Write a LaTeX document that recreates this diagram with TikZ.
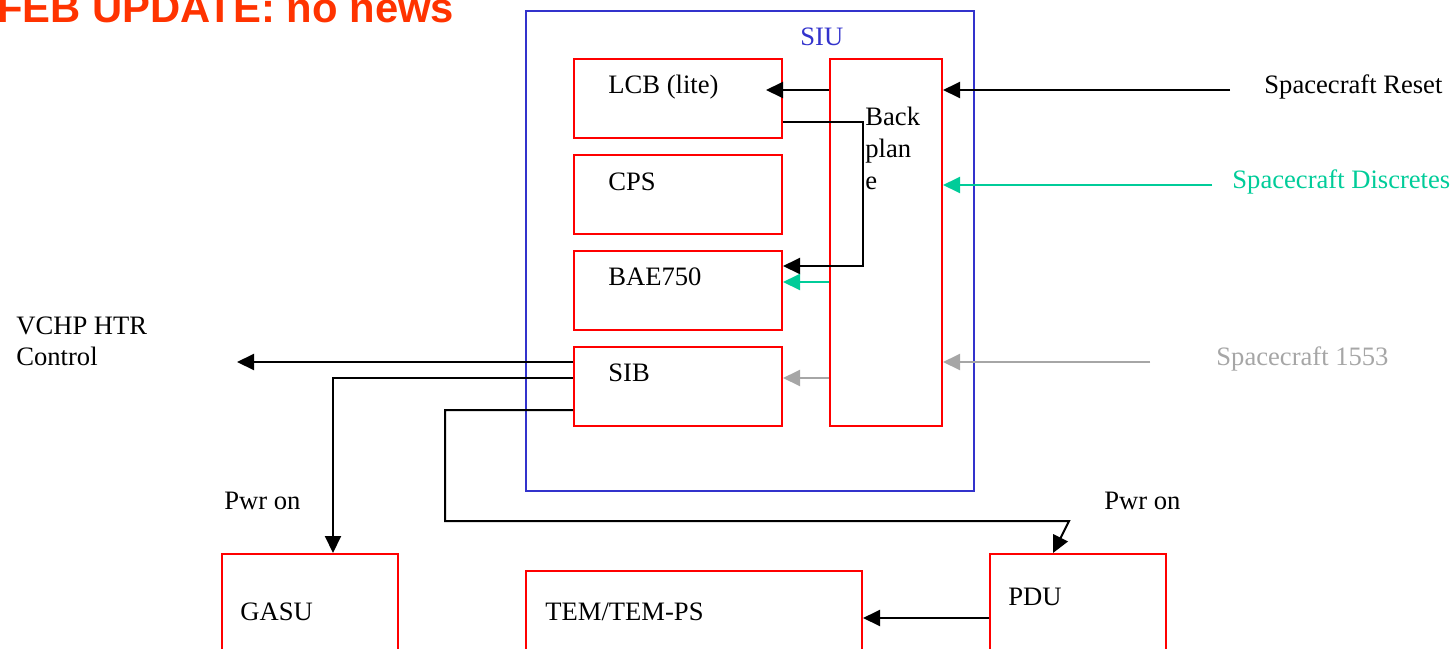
\documentclass[tikz,border=0pt]{standalone}
\usepackage{fontspec}
\setmainfont{Liberation Serif}
\newfontfamily\titlefont{Liberation Sans}
\usetikzlibrary{arrows.meta,calc}
\definecolor{boxred}{HTML}{FF0000}
\definecolor{siublue}{HTML}{3333CC}
\definecolor{discgreen}{HTML}{00CC99}
\definecolor{lgray}{HTML}{A6A6A6}
\definecolor{titlered}{HTML}{FF3300}
\begin{document}
\begin{tikzpicture}[x=0.5pt,y=-0.5pt,
  rbox/.style={draw=boxred, line width=1pt, inner sep=0pt, anchor=north west},
  arr/.style={-{Triangle[length=8.5pt,width=8pt]}, line width=1pt},
  txt/.style={anchor=base west, inner sep=0pt, font=\fontsize{13.3}{16}\selectfont}]
\useasboundingbox (0,0) rectangle (1455,648);
\clip (0,0) rectangle (1455,648);
% title
\node[anchor=base west, inner sep=0pt, text=titlered, font=\titlefont\bfseries\fontsize{20.9}{24}\selectfont] (title) at (-3,22) {FEB UPDATE: no news};
% SIU
\node[draw=siublue, line width=1pt, inner sep=0pt, anchor=north west, minimum width=224pt, minimum height=240pt] (siu) at (525,10) {};
\node[txt, text=siublue] (siul) at (800,45) {SIU};
% inner boxes
\node[rbox, minimum width=104pt, minimum height=39.5pt] (lcb) at (573,58) {};
\node[rbox, minimum width=104pt, minimum height=39.5pt] (cps) at (573,154) {};
\node[rbox, minimum width=104pt, minimum height=39.5pt] (bae) at (573,250) {};
\node[rbox, minimum width=104pt, minimum height=39.5pt] (sib) at (573,346) {};
\node[rbox, minimum width=56pt, minimum height=183.5pt] (bp) at (829,58) {};
\node[txt] (lcbl) at (608,93) {LCB (lite)};
\node[txt] (cpsl) at (608,190) {CPS};
\node[txt] (bael) at (608,285) {BAE750};
\node[txt] (sibl) at (608,381) {SIB};
\node[txt] (bpl1) at (865,125) {Back};
\node[txt] (bpl2) at (865,157) {plan};
\node[txt] (bpl3) at (865,189) {e};
% bottom boxes
\node[rbox, minimum width=88pt, minimum height=100pt] (gasu) at (221,553) {};
\node[rbox, minimum width=168pt, minimum height=100pt] (tem) at (525,570) {};
\node[rbox, minimum width=88pt, minimum height=100pt] (pdu) at (989,553) {};
\node[txt] (gasul) at (240,620) {GASU};
\node[txt] (teml) at (545,620) {TEM/TEM-PS};
\node[txt] (pdul) at (1008,605) {PDU};
% external labels
\node[txt] (rstl) at (1264,93) {Spacecraft Reset};
\node[txt, text=discgreen] (discl) at (1232,188) {Spacecraft Discretes};
\node[txt, text=lgray] (s1553l) at (1216,365) {Spacecraft 1553};
\node[txt] (vchp1) at (16,334) {VCHP HTR};
\node[txt] (vchp2) at (16,365) {Control};
\node[txt] (pwr1) at (224,509) {Pwr on};
\node[txt] (pwr2) at (1104,509) {Pwr on};
% connector free ends
\coordinate (rstS) at (1230,90);
\coordinate (discS) at (1212,185);
\coordinate (s1553S) at (1150,362);
\coordinate (vchpT) at (237,362);
\coordinate (lcbT) at (766,90);
\coordinate (temS) at ($(pdu.north west)+(0,65)$);
% external inputs
\draw[arr] (rstS) -- (rstS -| bp.east);
\draw[arr, draw=discgreen, fill=discgreen] (discS) -- (discS -| bp.east);
\draw[arr, draw=lgray, fill=lgray] (s1553S) -- (s1553S -| bp.east);
% backplane to boards
\draw[arr] (lcbT -| bp.west) -- (lcbT);
\draw[arr] ($(lcb.north east)+(0,64)$) -- ++(80,0) |- ($(bae.north east)+(0,16)$);
\draw[arr, draw=discgreen, fill=discgreen] ($(bp.north west)+(0,224)$) -- ($(bae.north east)+(0,32)$);
\draw[arr, draw=lgray, fill=lgray] ($(bp.north west)+(0,320)$) -- ($(sib.north east)+(0,32)$);
% SIB outputs
\draw[arr] ($(sib.north west)+(0,16)$) -- (vchpT);
\draw[arr] ($(sib.north west)+(0,32)$) -| (gasu.north -| 333,0);
\draw[arr] ($(sib.north west)+(0,64)$) -- (445,410) -- (445,521) -- (1069,521) -- (pdu.north -| 1053,0);
% PDU to TEM
\draw[arr] (temS) -- (temS -| tem.east);
\end{tikzpicture}
\end{document}
